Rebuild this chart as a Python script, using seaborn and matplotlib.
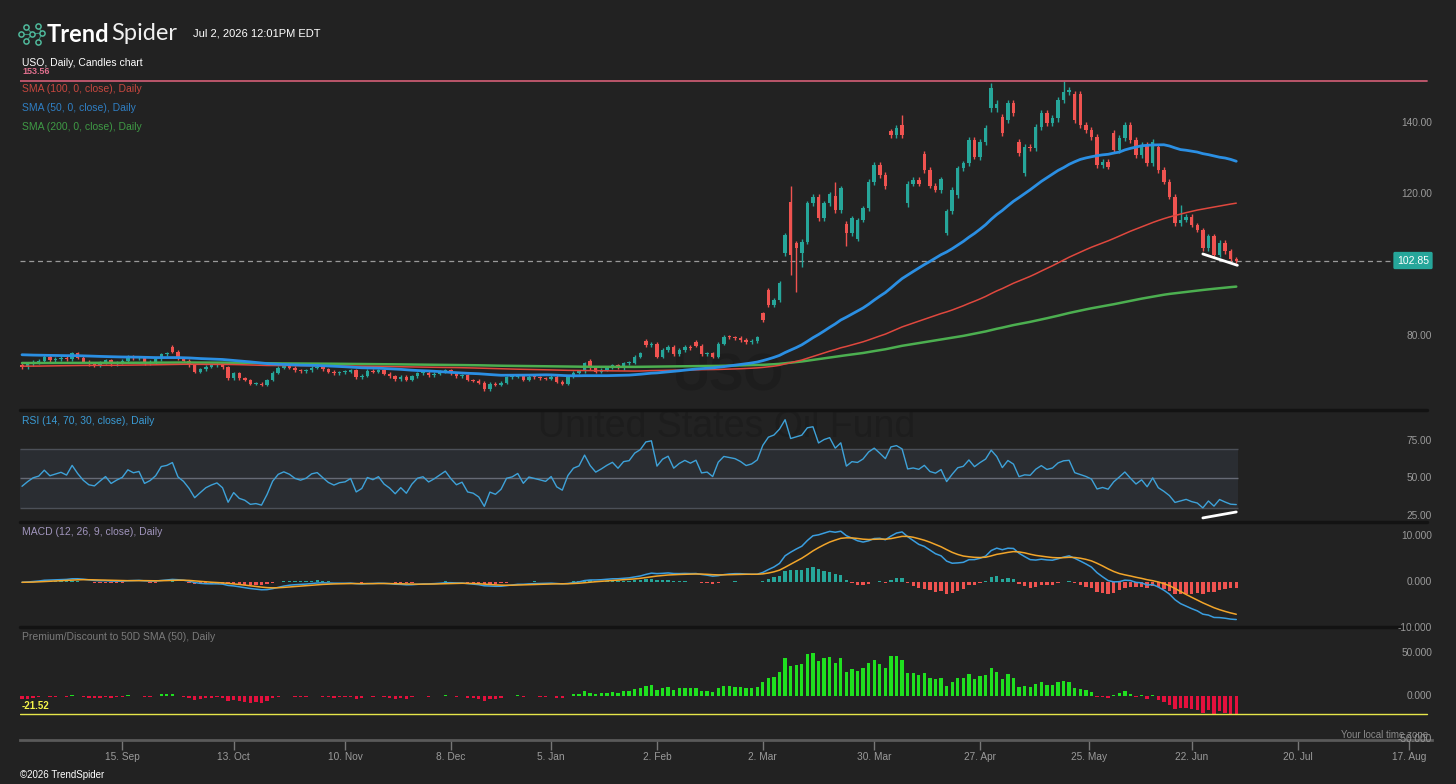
import numpy as np
import pandas as pd
import matplotlib
matplotlib.use("Agg")
import matplotlib.pyplot as plt
import seaborn as sns

# USO daily closes, 19 Aug 2025 .. 2 Jul 2026
closes = [
    72.7, 73.5, 74.2, 74.5, 75.6, 74.7, 75.0, 75.3, 74.9, 76.6,
    75.4, 74.3, 73.5, 73.3, 74.0, 74.7, 73.6, 74.1, 74.5, 75.7,
    75.3, 75.5, 73.8, 74.2, 74.9, 76.4, 76.6, 77.1, 75.2, 74.5,
    73.3, 71.4, 72.1, 72.8, 73.2, 73.5, 72.7, 69.6, 71.0, 69.6,
    69.1, 68.0, 68.1, 67.7, 69.1, 71.2, 72.5, 73.0, 72.6, 71.9,
    71.6, 71.9, 72.6, 72.8, 72.1, 71.4, 71.0, 71.3, 71.4, 71.8,
    69.9, 70.3, 71.7, 71.4, 71.8, 70.8, 70.2, 69.3, 70.0, 69.1,
    70.2, 71.0, 71.2, 70.5, 70.9, 71.4, 71.9, 71.0, 70.2, 70.5,
    69.1, 68.9, 68.3, 66.5, 68.1, 67.7, 68.3, 69.8, 70.0, 70.5,
    69.1, 70.0, 69.8, 69.6, 69.4, 70.0, 68.6, 68.1, 70.0, 71.2,
    71.6, 73.8, 72.4, 71.4, 72.0, 72.7, 73.3, 72.5, 73.8, 74.0,
    75.7, 76.6, 79.0, 79.4, 75.7, 77.6, 78.5, 76.3, 77.6, 78.5,
    78.0, 78.8, 76.4, 76.6, 75.7, 79.4, 81.3, 81.1, 80.9, 80.4,
    79.7, 80.1, 81.1, 86.0, 90.3, 91.7, 96.4, 110.0, 104.4, 106.3,
    108.2, 119.0, 120.9, 114.8, 119.0, 121.5, 117.1, 123.2, 110.5, 114.8,
    114.3, 117.6, 125.1, 129.8, 127.0, 123.9, 138.3, 140.2, 138.3, 124.6,
    125.6, 124.6, 128.4, 124.0, 122.8, 125.8, 116.7, 122.8, 128.9, 130.3,
    136.9, 132.2, 136.4, 140.2, 151.5, 147.2, 138.8, 147.3, 144.4, 133.1,
    135.0, 134.6, 140.7, 144.6, 141.6, 143.0, 148.2, 150.5, 151.0, 142.5,
    141.1, 139.7, 137.8, 129.8, 130.8, 129.4, 134.1, 137.4, 141.1, 136.9,
    132.7, 135.5, 130.3, 136.4, 128.4, 125.1, 120.9, 113.4, 114.3, 115.2,
    112.9, 111.5, 106.3, 109.8, 104.4, 107.9, 105.4, 103.2, 102.85,
]
# opens that gap away from the previous close (day index: open)
gap_opens = {0: 73.4, 27: 78.4, 102: 74.5, 112: 80.2, 121: 79.9, 133: 87.9,
             134: 94.5, 137: 104.9, 138: 119.5, 139: 107.7, 140: 104.9,
             146: 121.0, 148: 113.3, 150: 109.0, 156: 139.3, 158: 141.2,
             159: 119.0, 162: 133.0, 166: 110.5, 168: 121.4, 170: 130.3,
             174: 145.8, 175: 145.8, 176: 143.5, 177: 142.5, 179: 136.4,
             180: 127.5, 189: 150.0, 190: 150.0, 196: 138.8, 204: 135.0}
# long wicks
wick_highs = {138: 123.9, 146: 125.1, 158: 144.0, 174: 153.0, 187: 153.56, 208: 118.5}
wick_lows = {138: 98.8, 139: 94.0, 140: 101.0, 159: 118.0, 166: 110.0, 148: 107.0}

# SMA level of the unseen days before the window (50, 100, 200)
sma_prior = {50: 76.3, 100: 73.0, 200: 73.9}
# average daily gain / loss before the window, for the RSI warm-up
rsi_prior = (0.50, 0.62)

holidays = ["2025-09-01", "2025-11-27", "2025-12-25", "2026-01-01", "2026-01-19",
            "2026-02-16", "2026-04-03", "2026-05-25", "2026-06-19", "2026-07-03"]
tick_dates = ["2025-09-15", "2025-10-13", "2025-11-10", "2025-12-08", "2026-01-05",
              "2026-02-02", "2026-03-02", "2026-03-30", "2026-04-27", "2026-05-25",
              "2026-06-22", "2026-07-20", "2026-08-17"]
tick_labels = ["15. Sep", "13. Oct", "10. Nov", "8. Dec", "5. Jan", "2. Feb", "2. Mar",
               "30. Mar", "27. Apr", "25. May", "22. Jun", "20. Jul", "17. Aug"]

last_price = 102.85
high_line = 153.56
premium_last = -21.52
# drawn trend lines (day index, value)
price_trend = [(212.0, 104.7), (218.2, 101.5)]
rsi_trend = [(212.0, 23.4), (218.0, 27.4)]

BG = "#222222"
TEAL = "#26a69a"
RED = "#ef5350"

sns.set_theme(style="dark", rc={"figure.facecolor": BG, "axes.facecolor": "none",
                                "axes.grid": False, "savefig.facecolor": BG})
plt.rcParams["font.family"] = ["Liberation Sans", "DejaVu Sans"]

days = pd.bdate_range("2025-08-19", "2026-08-31", freq="C", holidays=holidays)
n = len(closes)
idx = np.arange(n)
close = pd.Series(closes, dtype=float)

opens = close.shift(1).bfill()
for k, v in gap_opens.items():
    opens[k] = v
body_top = np.maximum(opens, close)
body_bot = np.minimum(opens, close)
highs = body_top + 0.006 * close
lows = body_bot - 0.006 * close
for k, v in wick_highs.items():
    highs[k] = v
for k, v in wick_lows.items():
    lows[k] = v
cols = np.where(close >= opens, TEAL, RED)


def sma(win):
    pad = pd.Series([sma_prior[win]] * (win - 1))
    s = pd.concat([pad, close], ignore_index=True).rolling(win).mean()
    return s.iloc[win - 1:].reset_index(drop=True)


sma50, sma100, sma200 = sma(50), sma(100), sma(200)

# Wilder RSI (14)
ag, al = rsi_prior
rsi_vals = []
prev = closes[0]
for c in closes:
    d = c - prev
    prev = c
    ag = (ag * 13 + max(d, 0)) / 14
    al = (al * 13 + max(-d, 0)) / 14
    rsi_vals.append(100 - 100 / (1 + ag / al))
rsi = pd.Series(rsi_vals)

macd = close.ewm(span=12, adjust=False).mean() - close.ewm(span=26, adjust=False).mean()
signal = macd.ewm(span=9, adjust=False).mean()
hist = macd - signal

premium = (close / sma50 - 1) * 100

W, H = 1456, 784
fig = plt.figure(figsize=(W / 100, H / 100), dpi=100)


def fx(px):
    return px / W


def fy(py):
    return 1 - py / H


def panel(top, bottom):
    return fig.add_axes([fx(20), fy(bottom), fx(1432) - fx(20), (bottom - top) / H])


xmin, xmax = -0.36, 253.14
ax_p = panel(50, 409)
ax_r = panel(411, 521)
ax_m = panel(523, 626)
ax_d = panel(628, 740)
for ax in (ax_p, ax_r, ax_m, ax_d):
    ax.set_xlim(xmin, xmax)
    for s in ax.spines.values():
        s.set_visible(False)
    ax.tick_params(left=False, labelleft=False, bottom=False, labelbottom=False)
ax_p.set_ylim(60.90, 162.32)
ax_r.set_ylim(21.34, 95.17)
ax_m.set_ylim(-9.5, 12.89)
ax_d.set_ylim(-51.74, 78.49)


def right_labels(ax, vals, fmt, dy=0):
    for v in vals:
        ax.annotate(fmt.format(v), xy=(1, v), xycoords=("axes fraction", "data"),
                    xytext=(0, dy), textcoords="offset points", ha="right", va="center",
                    color="#9a9a9a", fontsize=7.3, annotation_clip=False)


# watermark
fig.text(fx(728), fy(377), "USO", ha="center", va="center", fontsize=37,
         fontweight="bold", color="#1d1d1d", zorder=-1)
fig.text(fx(727), fy(427), "United States Oil Fund", ha="center", va="center",
         fontsize=27, color="#1d1d1d", zorder=-1)

# panel separators
for py in (410, 522, 627):
    fig.add_artist(plt.Line2D([fx(20), fx(1427)], [fy(py), fy(py)], color="#131313",
                              lw=2.5, zorder=-0.5))

# price panel
ax_p.vlines(idx, lows, highs, colors=cols, lw=1, zorder=2)
ax_p.bar(idx, np.maximum(body_top - body_bot, 0.3), bottom=body_bot, width=0.62,
         color=cols, linewidth=0, zorder=2)
sns.lineplot(x=idx, y=sma200, ax=ax_p, color="#4caf50", lw=1.8, zorder=3)
sns.lineplot(x=idx, y=sma100, ax=ax_p, color="#e0483e", lw=1.1, zorder=3)
sns.lineplot(x=idx, y=sma50, ax=ax_p, color="#2b8fe3", lw=2.0, zorder=4)
ax_p.plot([xmin, 252.2], [high_line, high_line], color="#c75a70", lw=1.3, zorder=3)
ax_p.plot([xmin, 245.6], [last_price, last_price], color="#9a9a9a", lw=0.9,
          ls=(0, (4, 3)), zorder=1)
ax_p.plot(*zip(*price_trend), color="white", lw=2, zorder=5)
ax_p.set_xlabel("")
ax_p.set_ylabel("")
right_labels(ax_p, [140, 120, 80], "{:.2f}", dy=4)
fig.text(fx(1413), fy(260.5), f"{last_price:.2f}", ha="center", va="center",
         fontsize=7.5, color="white",
         bbox=dict(boxstyle="round,pad=0.35,rounding_size=0.15", fc=TEAL, ec="none"))

# RSI panel
ax_r.fill_between([xmin, 218.3], 30, 70, color="#2a2d32", zorder=0, lw=0)
ax_r.hlines([70, 30], xmin, 218.3, colors="#4c5058", lw=1, zorder=1)
ax_r.hlines([50], xmin, 218.3, colors="#666a75", lw=1, zorder=1)
sns.lineplot(x=idx, y=rsi, ax=ax_r, color="#3ea2d9", lw=1, zorder=3)
ax_r.plot(*zip(*rsi_trend), color="white", lw=2, zorder=5)
ax_r.set_xlabel("")
ax_r.set_ylabel("")
right_labels(ax_r, [75, 50, 25], "{:.2f}")

# MACD panel
ax_m.bar(idx, hist, width=0.6, color=np.where(hist >= 0, TEAL, RED), linewidth=0, zorder=2)
sns.lineplot(x=idx, y=macd, ax=ax_m, color="#3a9ee0", lw=1.1, zorder=3)
sns.lineplot(x=idx, y=signal, ax=ax_m, color="#f2a52a", lw=1.1, zorder=3)
ax_m.set_xlabel("")
ax_m.set_ylabel("")
right_labels(ax_m, [10, 0, -10], "{:.3f}")

# premium / discount panel
ax_d.bar(idx, premium, width=0.6, color=np.where(premium >= 0, "#1fe01f", "#e5103d"),
         linewidth=0, zorder=2)
ax_d.plot([xmin, 252.2], [premium_last, premium_last], color="#e6e64a", lw=1, zorder=3)
ax_d.annotate(f"{premium_last:.2f}", xy=(0.0015, premium_last),
              xycoords=("axes fraction", "data"), xytext=(0, 2), textcoords="offset points",
              ha="left", va="bottom", color="#f4f44a", fontsize=7, fontweight="bold")
right_labels(ax_d, [50, 0, -50], "{:.3f}")

# time axis
tick_pos = []
for d in pd.to_datetime(tick_dates):
    p = days.searchsorted(d)
    tick_pos.append(p if days[p] == d else p - 0.5)
ax_d.spines["bottom"].set_visible(True)
ax_d.spines["bottom"].set_color("#5a5a5a")
ax_d.spines["bottom"].set_linewidth(2)
ax_d.set_xticks(tick_pos)
ax_d.set_xticklabels(tick_labels)
ax_d.tick_params(axis="x", bottom=True, labelbottom=True, direction="out", length=7,
                 width=1, color="#777777", labelcolor="#9a9a9a", labelsize=7.3, pad=2)

# header and legends
logo = fig.add_axes([fx(17), fy(46), fx(28), 24 / H])
logo.set_axis_off()
pts = np.array([[0.05, 0.5], [0.3, 0.85], [0.3, 0.15], [0.55, 0.5], [0.8, 0.88],
                [0.8, 0.12], [0.98, 0.55]])
for a, b in [(0, 3), (1, 3), (2, 3), (3, 6), (4, 6), (5, 6)]:
    logo.plot(pts[[a, b], 0], pts[[a, b], 1], color="#3b8f7a", lw=0.8)
logo.scatter(pts[:, 0], pts[:, 1], s=14, facecolors=BG, edgecolors="#4fb89b", lw=1.1, zorder=3)
logo.set_xlim(-0.1, 1.1)
logo.set_ylim(-0.1, 1.1)
fig.text(fx(47), fy(34), "Trend", ha="left", va="center", fontsize=17, fontweight="bold",
         color="white", family=["Lato", "DejaVu Sans"])
fig.text(fx(111), fy(34), "Spider", ha="left", va="center", fontsize=17,
         fontweight="normal", color="#f0f0f0", family=["Lato", "DejaVu Sans"])
fig.text(fx(193), fy(34), "Jul 2, 2026 12:01PM EDT", ha="left", va="center",
         fontsize=8, color="white")

legend = [("USO, Daily, Candles chart", 63, "white"),
          ("SMA (100, 0, close), Daily", 89, "#c8473f"),
          ("SMA (50, 0, close), Daily", 108, "#2f7fc4"),
          ("SMA (200, 0, close), Daily", 127, "#3f9a45"),
          ("RSI (14, 70, 30, close), Daily", 421, "#3a9bd5"),
          ("MACD (12, 26, 9, close), Daily", 532, "#a195bd"),
          ("Premium/Discount to 50D SMA (50), Daily", 637, "#7a7a7a")]
for txt, py, c in legend:
    fig.text(fx(22), fy(py), txt, ha="left", va="center", fontsize=7.5, color=c)
fig.text(fx(22), fy(72), f"{high_line:.2f}", ha="left", va="center", fontsize=6.5,
         fontweight="bold", color="#e0708e")
fig.text(fx(1428), fy(735), "Your local time zone", ha="right", va="center",
         fontsize=7, color="#8a8a8a")
fig.text(fx(20), fy(775), "\u00a92026 TrendSpider", ha="left", va="center",
         fontsize=7, color="white")

fig.savefig("out.png", dpi=100, facecolor=BG)
